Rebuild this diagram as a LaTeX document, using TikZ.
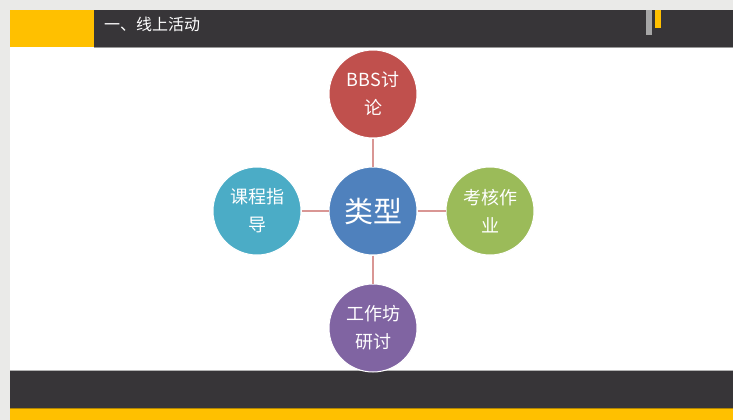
\documentclass[tikz,border=0pt]{standalone}
\usepackage{fontspec}
\newfontfamily\cjk{Noto Sans CJK SC}
\definecolor{bggrey}{HTML}{EAEAE8}
\definecolor{darkbar}{HTML}{373538}
\definecolor{gold}{HTML}{FFC000}
\definecolor{cred}{HTML}{C0504D}
\definecolor{cblue}{HTML}{4F81BD}
\definecolor{cgreen}{HTML}{9BBB59}
\definecolor{cteal}{HTML}{4BACC6}
\definecolor{cpurple}{HTML}{8064A2}
\definecolor{linkc}{HTML}{D99694}
\tikzset{
  bubble/.style={circle, minimum size=88pt, inner sep=0pt, draw=white, line width=1pt,
    text=white, font=\cjk\fontsize{18}{28}\selectfont, align=center},
  link/.style={draw=linkc, line width=1.2pt}
}
\begin{document}
\begin{tikzpicture}[x=1pt,y=-1pt]
\useasboundingbox (0,0) rectangle (733,420);
\fill[bggrey] (0,0) rectangle (733,420);
\fill[white] (10,10) rectangle (733,420);
% top bar
\fill[darkbar] (10,10) rectangle (733,47);
\fill[gold] (10,10) rectangle (94,47);
\draw[gray!80, line width=1.5pt] (94,47.5) -- (733,47.5);
\fill[gray!70] (646,10) rectangle (652,35);
\fill[gold] (655,10) rectangle (661,28);
\node[anchor=west, text=white, font=\cjk\fontsize{16}{18}\selectfont, inner sep=0pt] (title) at (104,24) {一、线上活动};
% bottom bar
\fill[darkbar] (10,370) rectangle (733,408);
\draw[gray!60, line width=1pt] (10,370) -- (733,370);
\fill[gold] (10,408) rectangle (733,420);
\draw[gold!70!black, line width=0.6pt] (10,408) -- (733,408);
% nodes
\node[bubble, fill=cblue, font=\cjk\fontsize{29}{32}\selectfont] (c) at (373,211) {类型};
\node[bubble, fill=cred] (t) at (373,94) {BBS讨\\论};
\node[bubble, fill=cpurple] (b) at (373,328) {工作坊\\研讨};
\node[bubble, fill=cteal] (l) at (257,211) {课程指\\导};
\node[bubble, fill=cgreen] (r) at (490,211) {考核作\\业};
\draw[link] (c) -- (t);
\draw[link] (c) -- (b);
\draw[link] (c) -- (l);
\draw[link] (c) -- (r);
\end{tikzpicture}
\end{document}
